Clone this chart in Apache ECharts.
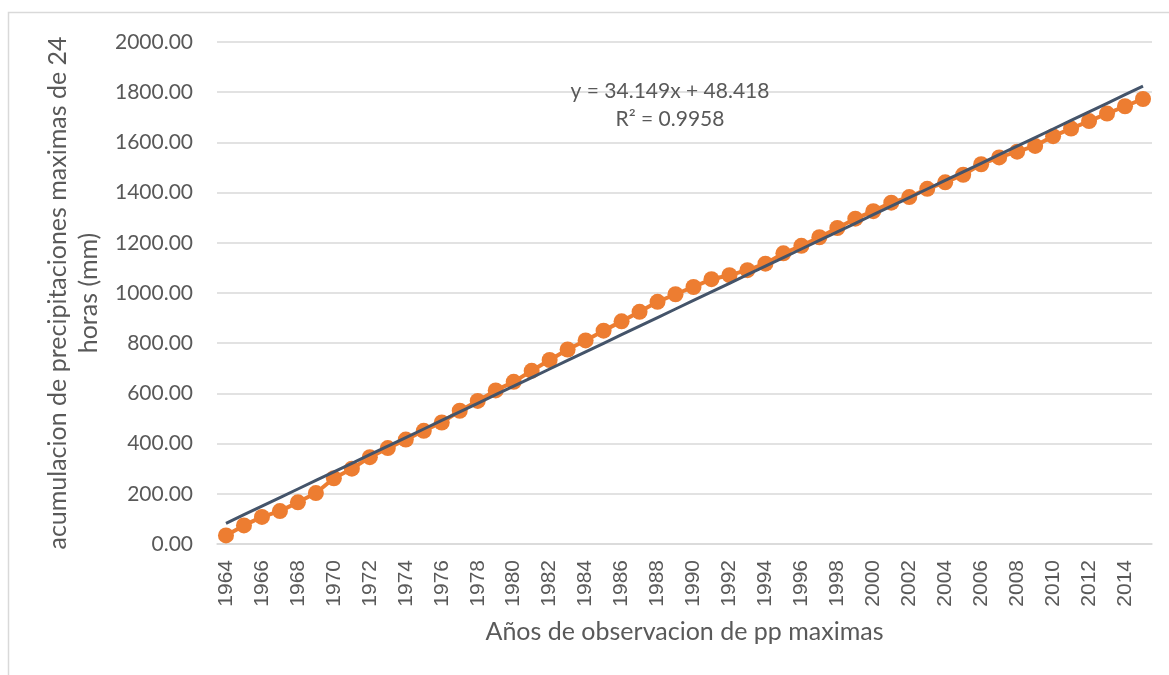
<!DOCTYPE html>
<html>
<head>
<meta charset="utf-8">
<script src="https://cdn.jsdelivr.net/npm/echarts@6/dist/echarts.min.js"></script>
<style>
  html, body { margin: 0; padding: 0; background: #ffffff; }
  #chart { width: 1169px; height: 675px; }
</style>
</head>
<body>
<div id="chart"></div>
<script>
// Years of observation
const years = [
  '1964','1965','1966','1967','1968','1969','1970','1971','1972','1973',
  '1974','1975','1976','1977','1978','1979','1980','1981','1982','1983',
  '1984','1985','1986','1987','1988','1989','1990','1991','1992','1993',
  '1994','1995','1996','1997','1998','1999','2000','2001','2002','2003',
  '2004','2005','2006','2007','2008','2009','2010','2011','2012','2013',
  '2014','2015'
];

// Accumulated maximum 24 h precipitation (mm)
const acumulado = [
  34, 74, 108, 131, 166, 203, 262, 300, 346, 382,
  416, 451, 484, 531, 570, 612, 646, 690, 733, 775,
  811, 850, 887, 925, 965, 995, 1024, 1055, 1071, 1091,
  1117, 1158, 1188, 1222, 1259, 1296, 1326, 1360, 1382, 1415,
  1441, 1471, 1513, 1540, 1563, 1586, 1625, 1655, 1685, 1715,
  1744, 1773
];

// Linear trend coefficients (x = 1, 2, ... per year)
const trendSlope = 34.149;
const trendIntercept = 48.418;
const trendR2 = 0.9958;

// Y axis ticks
const yMin = 0, yMax = 2000, yStep = 200;

const tendencia = years.map((_, i) => +(trendSlope * (i + 1) + trendIntercept).toFixed(3));

const textColor = '#595959';
const gridColor = '#D9D9D9';

const chart = echarts.init(document.getElementById('chart'), null, { renderer: 'canvas' });

chart.setOption({
  animation: false,
  backgroundColor: '#ffffff',
  grid: { left: 217, right: 17, top: 42, bottom: 131, containLabel: false },
  xAxis: {
    type: 'category',
    data: years,
    boundaryGap: true,
    name: 'Años de observacion de pp maximas',
    nameLocation: 'middle',
    nameGap: 75,
    nameTextStyle: { color: textColor, fontFamily: 'Lato', fontSize: 25 },
    axisLine: { show: true, lineStyle: { color: gridColor, width: 1.5 } },
    axisTick: { show: false },
    axisLabel: {
      interval: 1,
      rotate: 90,
      margin: 16,
      color: textColor,
      fontFamily: 'Liberation Sans',
      fontSize: 21
    },
    splitLine: { show: false }
  },
  yAxis: {
    type: 'value',
    min: yMin,
    max: yMax,
    interval: yStep,
    name: 'acumulacion de precipitaciones maximas de 24\nhoras (mm)',
    nameLocation: 'middle',
    nameGap: 108,
    nameTextStyle: { color: textColor, fontFamily: 'Lato', fontSize: 25, lineHeight: 31, align: 'center' },
    axisLine: { show: false },
    axisTick: { show: false },
    axisLabel: {
      margin: 24,
      color: textColor,
      fontFamily: 'Lato',
      fontSize: 21,
      formatter: v => v.toFixed(2)
    },
    splitLine: { show: true, lineStyle: { color: gridColor, width: 1.5 } }
  },
  series: [
    {
      name: 'Acumulado',
      type: 'line',
      data: acumulado,
      symbol: 'circle',
      symbolSize: 16,
      showAllSymbol: true,
      lineStyle: { color: '#ED7D31', width: 4 },
      itemStyle: { color: '#ED7D31' },
      z: 2
    },
    {
      name: 'Lineal (Acumulado)',
      type: 'line',
      data: tendencia,
      symbol: 'none',
      lineStyle: { color: '#44546A', width: 3 },
      z: 3
    }
  ],
  graphic: [
    {
      type: 'rect',
      shape: { x: 8.5, y: 12.5, width: 1300, height: 800 },
      style: { fill: 'none', stroke: gridColor, lineWidth: 1.5 },
      silent: true,
      z: 0
    },
    {
      type: 'text',
      x: 670, y: 91,
      style: {
        text: 'y = ' + trendSlope + 'x + ' + trendIntercept,
        fill: textColor, font: '21px Lato', align: 'center', verticalAlign: 'middle'
      },
      z: 10
    },
    {
      type: 'text',
      x: 670, y: 119,
      style: {
        text: 'R² = ' + trendR2,
        fill: textColor, font: '21px Lato', align: 'center', verticalAlign: 'middle'
      },
      z: 10
    }
  ]
});
</script>
</body>
</html>
